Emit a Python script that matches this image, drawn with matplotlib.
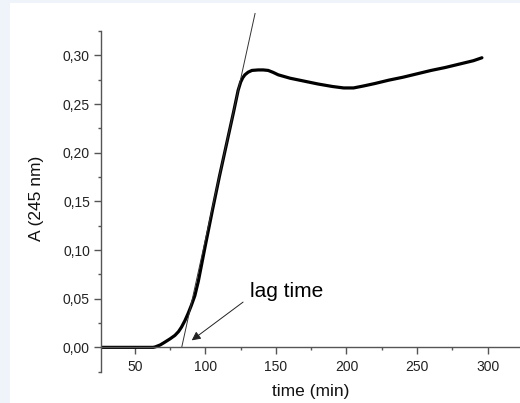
import numpy as np
import matplotlib
matplotlib.use('Agg')
import matplotlib.pyplot as plt
from matplotlib.ticker import MultipleLocator, FuncFormatter
from matplotlib.patches import Rectangle

plt.rcParams['font.family'] = ['Liberation Sans', 'DejaVu Sans']

# absorbance curve
time_min = [26, 63, 64.5, 68, 71.3, 75, 78.4, 81, 83.1, 85.5,
            87.8, 90, 92.5, 95, 97.3, 100, 105, 110,
            115, 120, 123.2, 125, 126.5, 128, 130.3,
            133, 137.4, 141, 144.5, 148, 151.6, 160, 170, 180,
            190, 198, 205, 212, 220, 230, 240, 250, 260,
            270, 280, 290, 296]
absorbance = [0, 0, 0.0005, 0.0025, 0.0054, 0.0088, 0.0123, 0.0163, 0.0209, 0.0275,
              0.0350, 0.0430, 0.0530, 0.0680, 0.0850, 0.1050, 0.1410, 0.1760,
              0.2090, 0.2420, 0.2640, 0.2725, 0.2770, 0.2800, 0.2827,
              0.2845, 0.2850, 0.2850, 0.2845, 0.2825, 0.2800, 0.2765, 0.2735, 0.2705,
              0.2680, 0.2665, 0.2665, 0.2685, 0.2710, 0.2745, 0.2775, 0.2810, 0.2845,
              0.2875, 0.2910, 0.2945, 0.2975]

# tangent drawn to find the lag time
tangent_x = [83.2, 135.2]
tangent_y = [0.0, 0.343]

lag_label = 'lag time'
arrow_tail = (126.7, 0.0465)
arrow_head = (90.3, 0.0072)

fig = plt.figure(figsize=(5.2, 4.03), dpi=100, facecolor='#eef4f9')
fig.patches.append(Rectangle((10 / 520, 0), 1, 400 / 403, transform=fig.transFigure,
                             facecolor='white', edgecolor='none', zorder=-10))
ax = fig.add_axes([101 / 520, 31.3 / 403, 1 - 101 / 520, 340.7 / 403])
ax.patch.set_alpha(0)

ax.plot(time_min, absorbance, color='black', lw=2.3, solid_capstyle='round',
        solid_joinstyle='round')
ax.plot(tangent_x, tangent_y, color='#333333', lw=0.7, clip_on=False)

ax.annotate('', xy=arrow_head, xytext=arrow_tail,
            arrowprops=dict(arrowstyle='-|>', color='#222222', lw=0.7,
                            mutation_scale=13, shrinkA=0, shrinkB=0))
ax.text(131.5, 0.0514, lag_label, fontsize=15, ha='left', va='baseline')

ax.set_xlim(26, 323)
ax.set_ylim(-0.025, 0.325)

for s in ['top', 'right']:
    ax.spines[s].set_visible(False)
ax.spines['bottom'].set_position(('data', 0))
for s in ['left', 'bottom']:
    ax.spines[s].set_color('#555555')
    ax.spines[s].set_linewidth(1.0)

ax.xaxis.set_major_locator(MultipleLocator(50))
ax.xaxis.set_minor_locator(MultipleLocator(25))
ax.yaxis.set_major_locator(MultipleLocator(0.05))
ax.yaxis.set_minor_locator(MultipleLocator(0.025))
ax.yaxis.set_major_formatter(FuncFormatter(lambda v, p: f'{v:.2f}'.replace('.', ',').replace('-0,00', '0,00')))
ax.set_yticks([0, 0.05, 0.10, 0.15, 0.20, 0.25, 0.30])

ax.tick_params(which='major', direction='out', length=5, width=1, color='#555555',
               labelsize=10, labelcolor='#222222', pad=3)
ax.tick_params(which='minor', direction='out', length=2.5, width=1, color='#555555')
ax.tick_params(axis='x', pad=4)

ax.set_xlabel('time (min)', fontsize=12.5, color='#111111')
ax.set_ylabel('A (245 nm)', fontsize=12.5, color='#111111')
ax.xaxis.set_label_coords(0.5, -0.035)
ax.yaxis.set_label_coords(-0.135, 0.51)

fig.savefig('out.png', dpi=100, facecolor=fig.get_facecolor())
